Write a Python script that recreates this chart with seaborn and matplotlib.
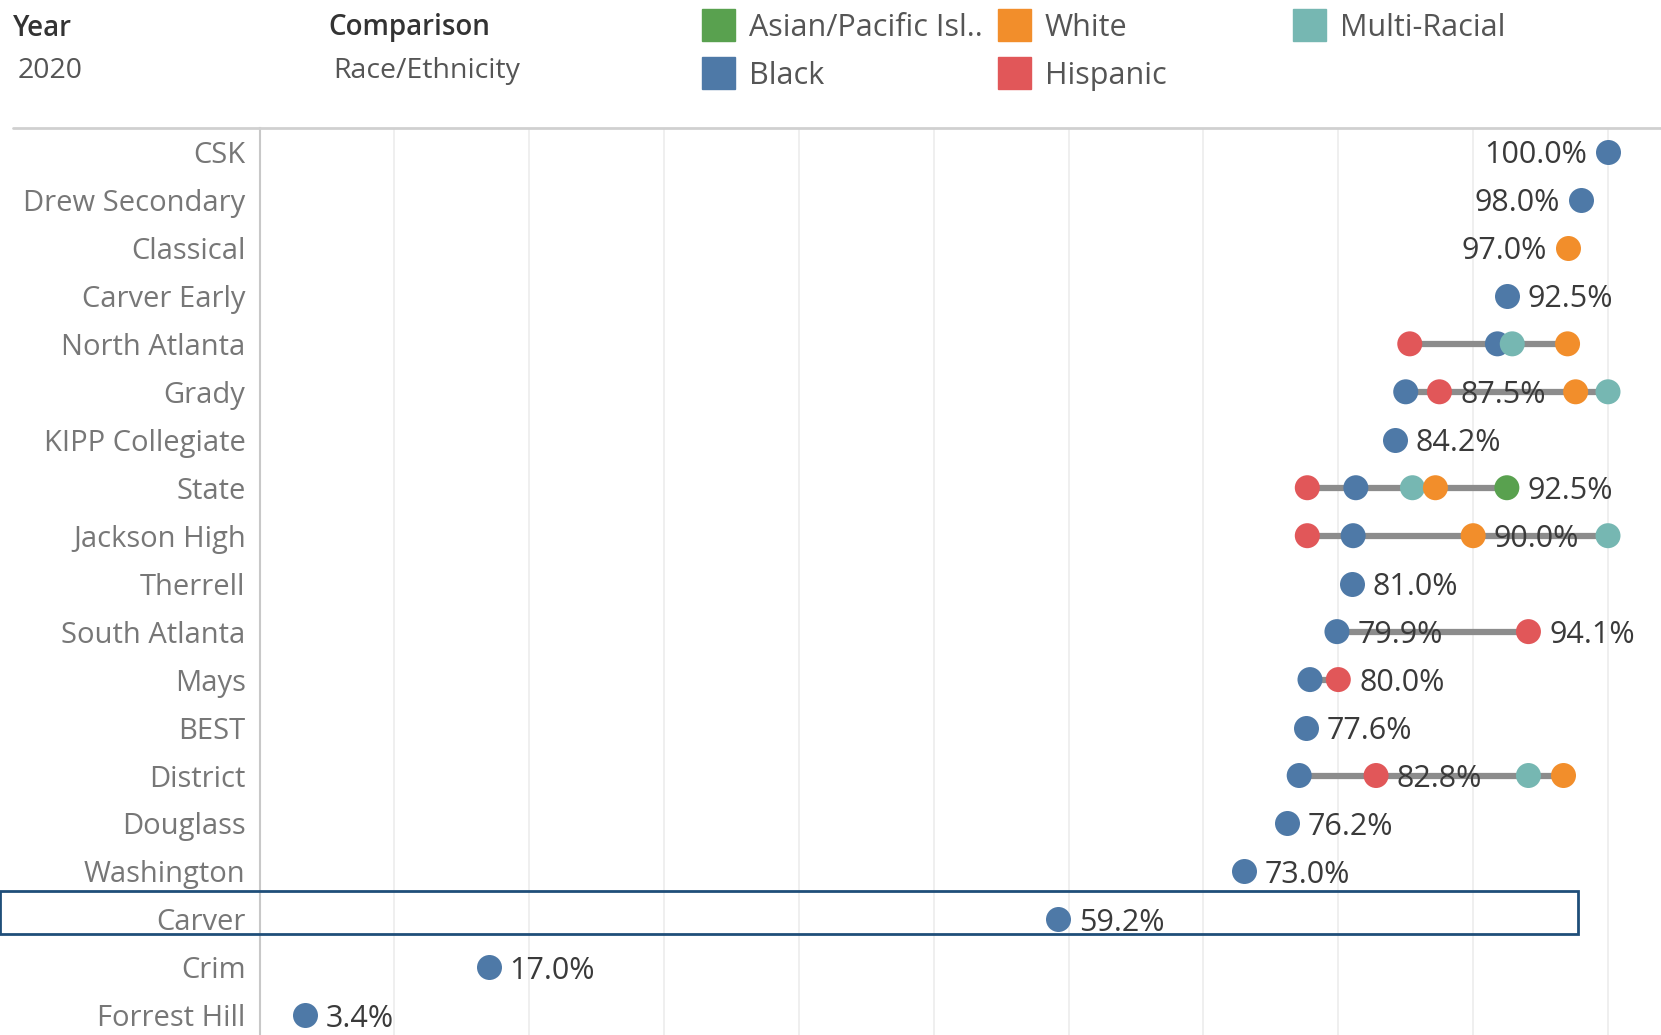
import pandas as pd
import numpy as np
import matplotlib.pyplot as plt
import seaborn as sns
from matplotlib.patches import Rectangle
from matplotlib.lines import Line2D
from matplotlib.transforms import blended_transform_factory

# 学校顺序（自上而下）
schools = ['CSK', 'Drew Secondary', 'Classical', 'Carver Early', 'North Atlanta',
           'Grady', 'KIPP Collegiate', 'State', 'Jackson High', 'Therrell',
           'South Atlanta', 'Mays', 'BEST', 'District', 'Douglass', 'Washington',
           'Carver', 'Crim', 'Forrest Hill']

# 各族裔数值（百分比），None 表示无数据
asian = [None, None, None, None, None, None, None, 92.5, None, None,
         None, None, None, None, None, None, None, None, None]
black = [100.0, 98.0, None, 92.5, 91.8, 85.0, 84.2, 81.3, 81.1, 81.0,
         79.9, 77.9, 77.6, 77.1, 76.2, 73.0, 59.2, 17.0, 3.4]
hispanic = [None, None, None, None, 85.3, 87.5, None, 77.7, 77.7, None,
            94.1, 80.0, None, 82.8, None, None, None, None, None]
multi = [None, None, None, None, 92.9, 100.0, None, 85.5, 100.0, None,
         None, None, None, 94.1, None, None, None, None, None]
white = [None, None, 97.0, None, 97.0, 97.6, None, 87.2, 90.0, None,
         None, None, None, 96.7, None, None, None, None, None]

# 显示数值标签的点：(学校, 族裔, 位置)
labels = [('CSK', 'Black', 'left'), ('Drew Secondary', 'Black', 'left'),
          ('Classical', 'White', 'left'), ('Carver Early', 'Black', 'right'),
          ('Grady', 'Hispanic', 'right'), ('KIPP Collegiate', 'Black', 'right'),
          ('State', 'Asian/Pacific Islander', 'right'), ('Jackson High', 'White', 'right'),
          ('Therrell', 'Black', 'right'), ('South Atlanta', 'Black', 'right'),
          ('South Atlanta', 'Hispanic', 'right'), ('Mays', 'Hispanic', 'right'),
          ('BEST', 'Black', 'right'), ('District', 'Hispanic', 'right'),
          ('Douglass', 'Black', 'right'), ('Washington', 'Black', 'right'),
          ('Carver', 'Black', 'right'), ('Crim', 'Black', 'right'),
          ('Forrest Hill', 'Black', 'right')]

highlight = 'Carver'

races = ['Asian/Pacific Islander', 'Black', 'Hispanic', 'Multi-Racial', 'White']
palette = {'Asian/Pacific Islander': '#59a14f', 'Black': '#4e79a7',
           'Hispanic': '#e15759', 'Multi-Racial': '#76b7b2', 'White': '#f28e2b'}

rows = []
for race, vals in zip(races, [asian, black, hispanic, multi, white]):
    for s, v in zip(schools, vals):
        if v is not None:
            rows.append({'school': s, 'race': race, 'value': v})
df = pd.DataFrame(rows)

sns.set_theme(style='white')
plt.rcParams['font.family'] = ['Open Sans', 'DejaVu Sans']

fig = plt.figure(figsize=(16.61, 10.35), dpi=100)
ax = fig.add_axes([259.5 / 1661, 0, 1 - 259.5 / 1661, (1035 - 128) / 1035])

# 网格线
for g in range(10, 101, 10):
    ax.axvline(g, color='#ececec', lw=1.2, zorder=0)

# 最小值到最大值的连线
rng = df.groupby('school')['value'].agg(['min', 'max']).reindex(schools)
ypos = np.arange(len(schools))
ax.hlines(ypos, rng['min'], rng['max'], color='#8c8c8c', lw=4.5, zorder=1)

sns.stripplot(data=df, x='value', y='school', hue='race', order=schools,
              hue_order=races, palette=palette, jitter=False, size=18,
              linewidth=0, ax=ax, legend=False, zorder=2)

# 数值标签
for s, r, side in labels:
    v = df[(df.school == s) & (df.race == r)]['value'].iloc[0]
    y = schools.index(s)
    off = 15 if side == 'right' else -15
    ax.annotate(f'{v:.1f}%', (v, y), xytext=(off, -2.5), textcoords='offset points',
                ha='left' if side == 'right' else 'right', va='center',
                fontsize=22, color='#3a3a3a', zorder=4)

ax.set_xlim(0, 103.93)
ax.set_ylim(18.41, -0.5)
ax.set_xlabel('')
ax.set_ylabel('')
ax.set_xticks([])
ax.tick_params(axis='y', length=0, pad=10, labelsize=21, labelcolor='#777777')
for sp in ['top', 'right', 'bottom']:
    ax.spines[sp].set_visible(False)
ax.spines['left'].set_color('#c8c8c8')
ax.spines['left'].set_linewidth(1.5)

# 高亮框
tr = blended_transform_factory(fig.transFigure, ax.transData)
hy = schools.index(highlight)
ax.add_patch(Rectangle((0, hy - 0.6), 1578 / 1661, 0.9, transform=tr, fill=False,
                       edgecolor='#1f4e79', lw=2, clip_on=False, zorder=5))

# 顶部分隔线
fig.add_artist(Line2D([13 / 1661, 1], [1 - 128 / 1035] * 2, color='#d0d0d0', lw=2))

# 顶部筛选信息
def fy(py):
    return 1 - py / 1035

fig.text(13 / 1661, fy(28), 'Year', fontsize=20, color='#333333', fontweight='semibold', va='center')
fig.text(18 / 1661, fy(71), '2020', fontsize=20.5, color='#555555', va='center')
fig.text(328 / 1661, fy(28), 'Comparison', fontsize=20, color='#333333', fontweight='semibold', va='center')
fig.text(333 / 1661, fy(71), 'Race/Ethnicity', fontsize=20.5, color='#555555', va='center')

# 图例
leg_items = [('Asian/Pacific Isl..', 'Asian/Pacific Islander', 702, 25),
             ('Black', 'Black', 702, 73),
             ('White', 'White', 998, 25),
             ('Hispanic', 'Hispanic', 998, 73),
             ('Multi-Racial', 'Multi-Racial', 1293, 25)]
for txt, race, px, py in leg_items:
    fig.add_artist(Rectangle((px / 1661, fy(py + 16)), 33 / 1661, 32 / 1035,
                             transform=fig.transFigure, color=palette[race]))
    fig.text((px + 47) / 1661, fy(py + 3), txt, fontsize=22, color='#555555', va='center')

fig.savefig('out.png', dpi=100)
